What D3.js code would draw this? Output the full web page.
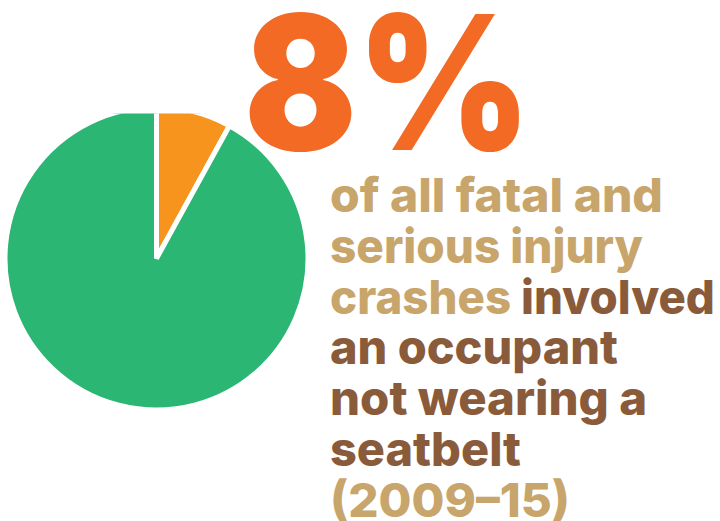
<!DOCTYPE html>
<html>
<head>
<meta charset="utf-8">
<script src="https://cdn.jsdelivr.net/npm/d3@7"></script>
<style>
  html, body { margin: 0; padding: 0; background: #ffffff; }
  svg { display: block; }
</style>
</head>
<body>
<svg id="chart" width="720" height="521"></svg>
<script>
// ---- data ----
const categories = ["Occupant not wearing a seatbelt", "All other crashes"];
const values = [8, 92];
const sliceColors = ["#F7941E", "#2CB674"];
const headline = "8%";
// caption lines: each line is a list of [text, tone]
const captionLines = [
  [["of all fatal and", "light"]],
  [["serious injury", "light"]],
  [["crashes ", "light"], ["involved", "dark"]],
  [["an occupant", "dark"]],
  [["not wearing a", "dark"]],
  [["seatbelt", "dark"]],
  [["(2009\u201315)", "light"]]
];
const captionWidths = [333, 313, 385, 288, 317, 191, 240];

// ---- drawing ----
const svg = d3.select("#chart");
const W = 720, H = 521;
const cx = 156.5, cy = 258.5, r = 149;
const tone = { light: "#C8A56B", dark: "#8A5B3A" };

svg.append("defs").append("clipPath").attr("id", "pieclip")
  .append("rect").attr("x", 0).attr("y", 113.5).attr("width", W).attr("height", H);

const pie = d3.pie().sort(null).value(d => d)(values);
const arc = d3.arc().innerRadius(0).outerRadius(r + 2.5);

svg.append("g")
  .attr("clip-path", "url(#pieclip)")
  .append("g")
  .attr("transform", `translate(${cx},${cy})`)
  .selectAll("path")
  .data(pie)
  .join("path")
  .attr("d", arc)
  .attr("fill", (d, i) => sliceColors[i])
  .attr("stroke", "#ffffff")
  .attr("stroke-width", 5)
  .attr("stroke-linejoin", "miter");

svg.append("text")
  .attr("x", 244)
  .attr("y", 150)
  .attr("font-family", "Inter")
  .attr("font-weight", 900)
  .attr("font-size", 187)
  .attr("fill", "#F26A24")
  .attr("textLength", 287)
  .attr("lengthAdjust", "spacingAndGlyphs")
  .text(headline);

const capX = 330, capY0 = 212, capStep = 50.8;
const cap = svg.append("g")
  .attr("font-family", "Inter")
  .attr("font-weight", 800)
  .attr("font-size", 47);

captionLines.forEach((line, i) => {
  const t = cap.append("text")
    .attr("x", capX)
    .attr("y", capY0 + i * capStep)
    .attr("textLength", captionWidths[i])
    .attr("lengthAdjust", "spacingAndGlyphs");
  line.forEach(([txt, tn]) => {
    t.append("tspan").attr("fill", tone[tn]).text(txt);
  });
});
</script>
</body>
</html>
